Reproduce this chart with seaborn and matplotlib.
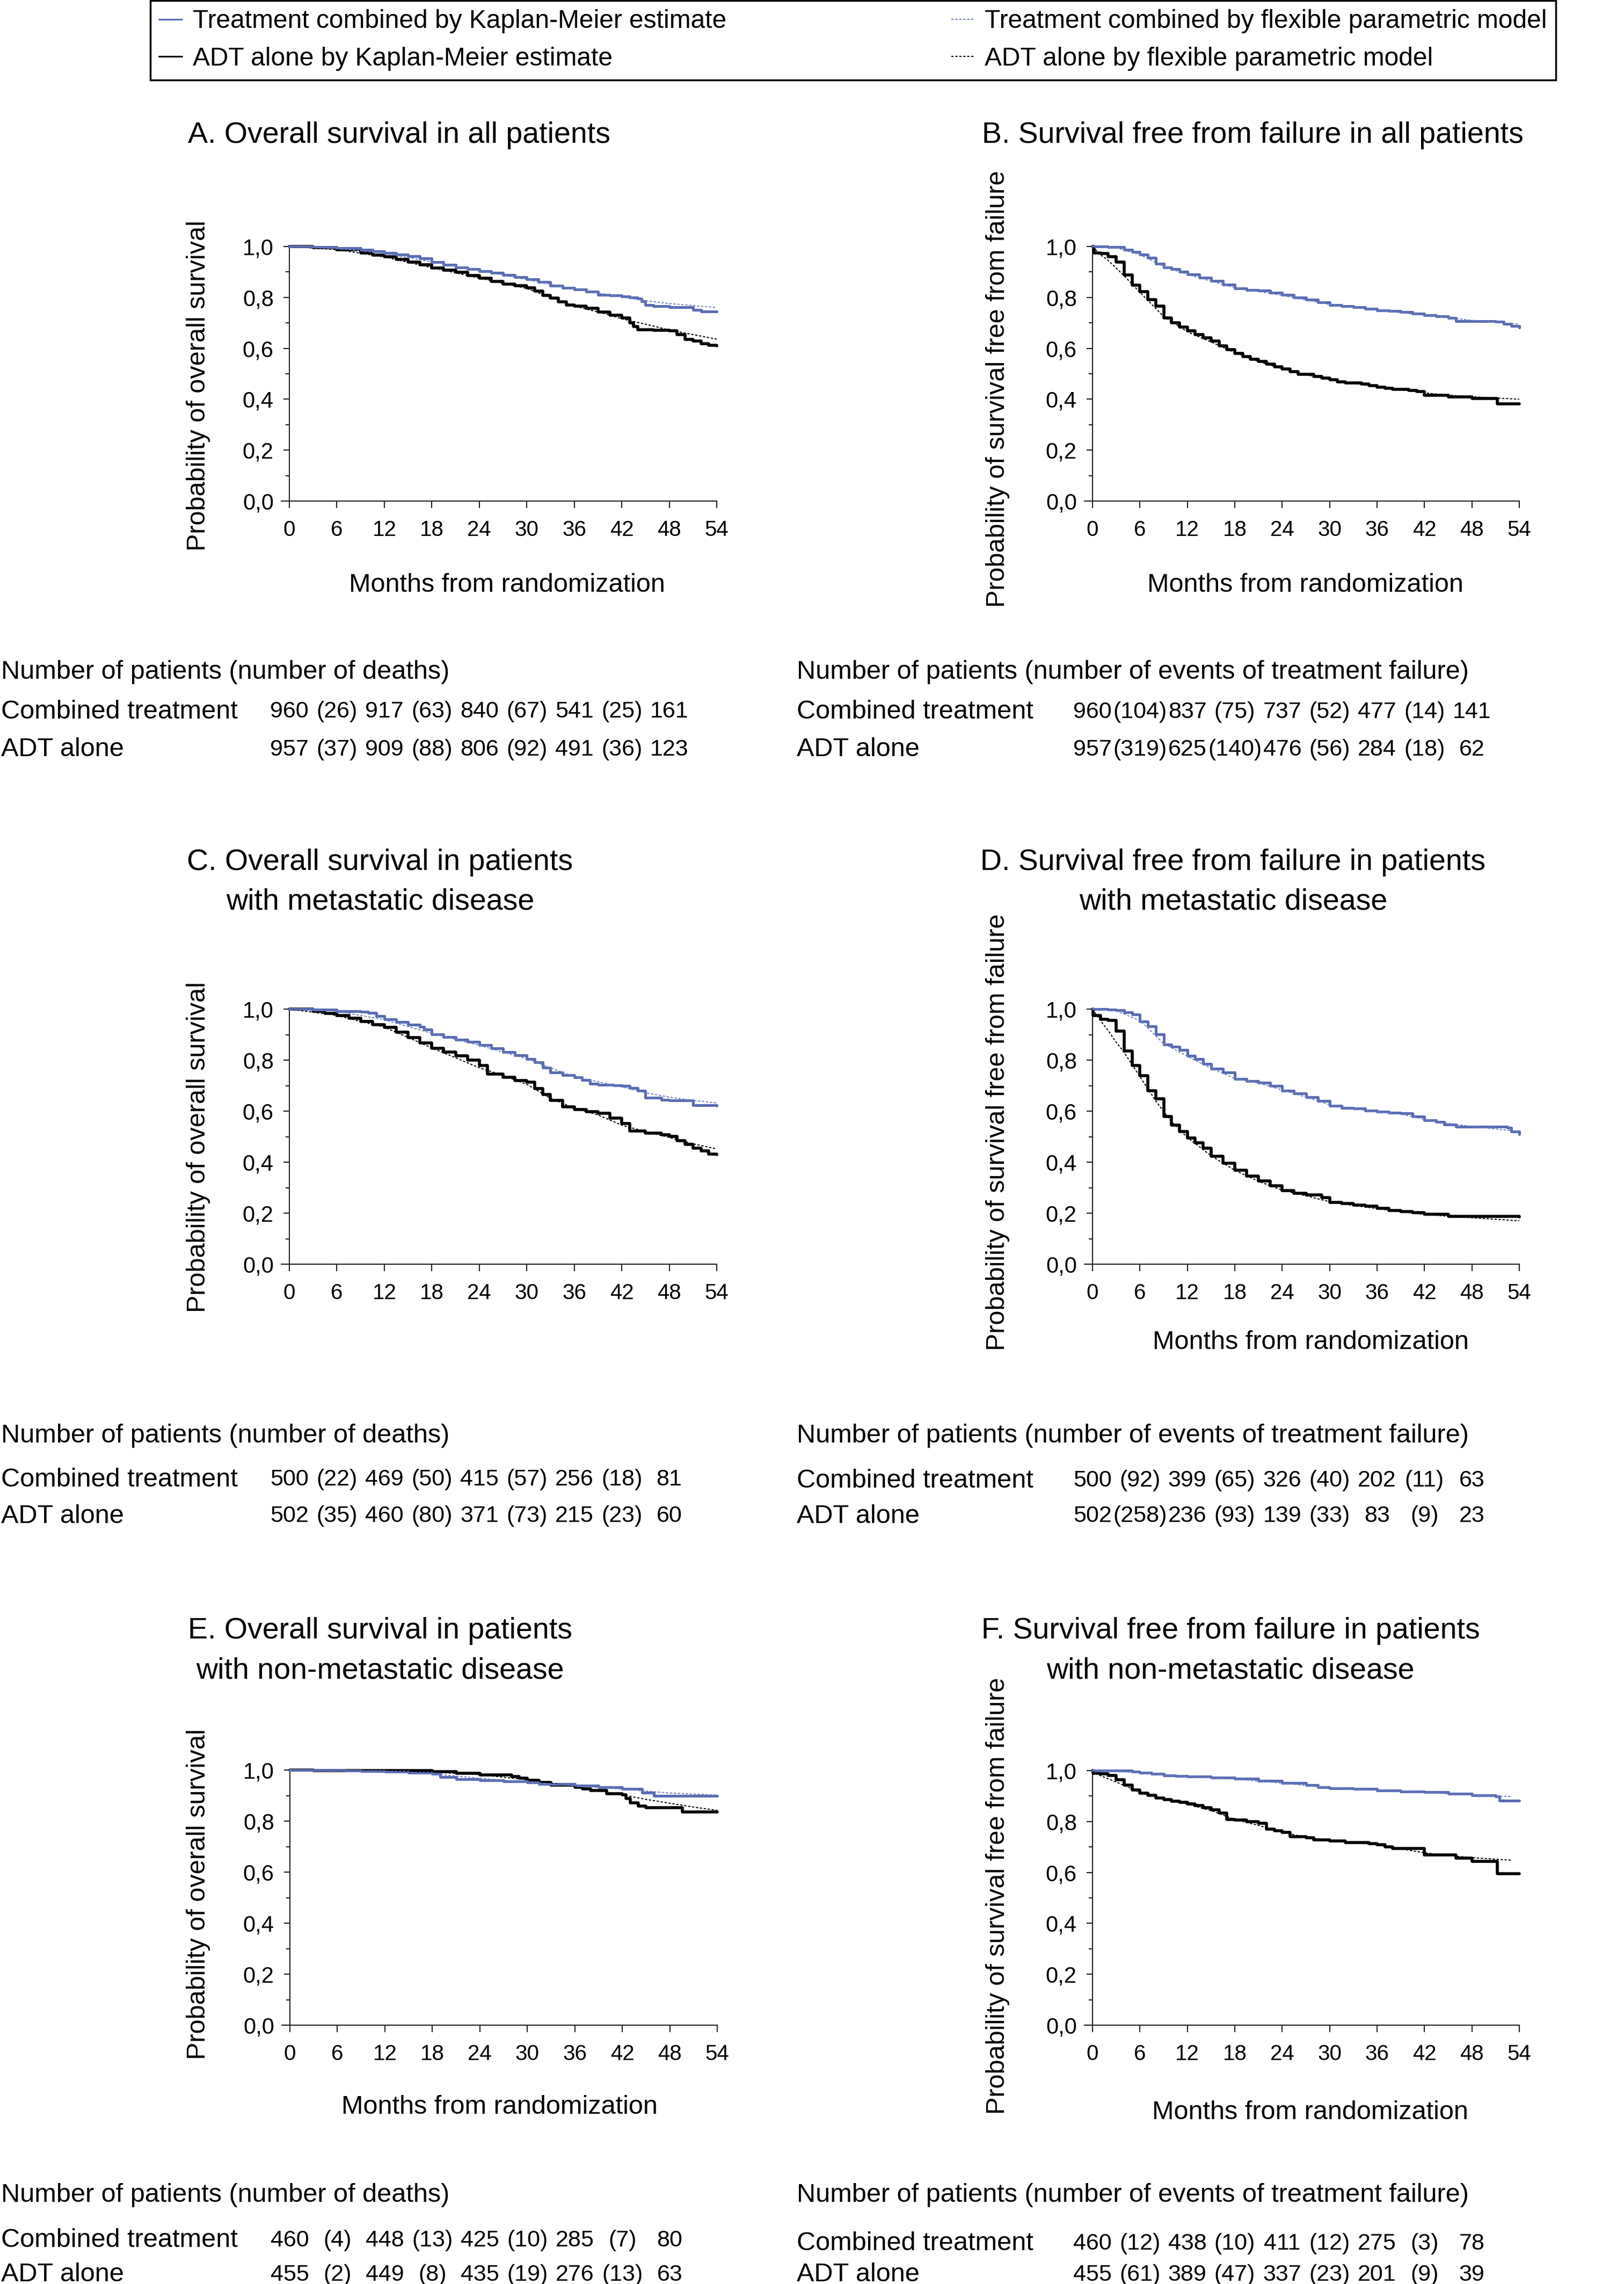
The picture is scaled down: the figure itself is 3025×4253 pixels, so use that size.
import matplotlib
matplotlib.use("Agg")
import matplotlib.pyplot as plt
import matplotlib.transforms as mtransforms
import seaborn as sns

# ------------------------------------------------------------------ data
MONTH_TICKS = [0, 6, 12, 18, 24, 30, 36, 42, 48, 54]
Y_TICKS = [0.0, 0.2, 0.4, 0.6, 0.8, 1.0]
Y_MINOR = [0.1, 0.3, 0.5, 0.7, 0.9]
Y_TICK_LABELS = ["0,0", "0,2", "0,4", "0,6", "0,8", "1,0"]
TABLE_MONTHS = [0, 6, 12, 18, 24, 30, 36, 42, 48]

LEG_KM_COMB = "Treatment combined by Kaplan-Meier estimate"
LEG_KM_ADT = "ADT alone by Kaplan-Meier estimate"
LEG_FP_COMB = "Treatment combined by flexible parametric model"
LEG_FP_ADT = "ADT alone by flexible parametric model"

# Panel A: overall survival, all patients
A_COMB_T = [0, 3, 6, 9, 10.5, 12, 13.5, 15, 16.5, 18, 19.5, 21, 22.5, 24, 25.5, 27, 28.5, 30, 31.5,
            33, 34.5, 36, 37.5, 39, 40.5, 42, 43, 44, 44.5, 45, 46, 48, 50, 51, 52, 54]
A_COMB_S = [1.0, 0.997, 0.994, 0.988, 0.982, 0.974, 0.968, 0.961, 0.953, 0.939, 0.928, 0.917, 0.912,
            0.904, 0.897, 0.888, 0.880, 0.871, 0.860, 0.845, 0.838, 0.832, 0.822, 0.810, 0.808, 0.804,
            0.800, 0.795, 0.785, 0.771, 0.765, 0.761, 0.761, 0.752, 0.745, 0.745]
A_ADT_T = [0, 3, 6, 9, 10.5, 12, 13.5, 15, 16.5, 18, 19.5, 21, 22.5, 24, 25.5, 27, 28.5, 30, 31, 32,
           33, 34, 35, 36, 37.5, 39, 40.5, 42, 43, 43.5, 44, 46, 48, 49, 50, 51, 52, 53, 54]
A_ADT_S = [1.0, 0.995, 0.988, 0.975, 0.967, 0.959, 0.950, 0.939, 0.928, 0.916, 0.907, 0.898, 0.887,
           0.875, 0.862, 0.853, 0.846, 0.838, 0.825, 0.808, 0.797, 0.783, 0.770, 0.765, 0.757, 0.743,
           0.731, 0.720, 0.700, 0.685, 0.674, 0.670, 0.668, 0.655, 0.636, 0.628, 0.619, 0.612, 0.610]
A_FPC_T = [0, 6, 12, 18, 24, 30, 36, 42, 45, 48, 51, 54]
A_FPC_S = [1.0, 0.993, 0.973, 0.940, 0.905, 0.870, 0.833, 0.802, 0.787, 0.776, 0.768, 0.760]
A_FPA_T = [0, 6, 12, 18, 24, 30, 33, 36, 40, 42, 45, 48, 51, 54]
A_FPA_S = [1.0, 0.988, 0.959, 0.917, 0.876, 0.835, 0.800, 0.766, 0.735, 0.716, 0.695, 0.672, 0.654, 0.636]

# Panel B: survival free from failure, all patients
B_COMB_T = [0, 2, 4, 5, 6, 7, 8, 9, 10, 11, 12, 13.5, 15, 16.5, 18, 19.5, 21, 22.5, 24, 25.5, 27,
            28.5, 30, 31.5, 33, 34.5, 36, 37.5, 39, 40.5, 42, 43.5, 45, 46, 48, 51, 52, 53, 54]
B_COMB_S = [1.0, 0.997, 0.988, 0.978, 0.968, 0.955, 0.933, 0.917, 0.911, 0.900, 0.890, 0.877, 0.864,
            0.850, 0.836, 0.830, 0.826, 0.818, 0.810, 0.800, 0.791, 0.780, 0.771, 0.765, 0.762, 0.755,
            0.748, 0.746, 0.743, 0.737, 0.730, 0.726, 0.720, 0.707, 0.707, 0.704, 0.696, 0.687, 0.681]
B_ADT_T = [0, 0.2, 1, 2, 3, 4, 5, 6, 7, 8, 9, 10, 11, 12, 13, 14, 15, 16, 17, 18, 19, 20, 21, 22, 23,
           24, 25, 26, 28, 29, 30, 31, 32, 34, 35, 36, 37, 38, 40, 41, 42, 45, 48, 51.2, 54]
B_ADT_S = [1.0, 0.975, 0.972, 0.959, 0.939, 0.888, 0.849, 0.823, 0.791, 0.765, 0.720, 0.700, 0.683,
           0.668, 0.655, 0.642, 0.629, 0.610, 0.595, 0.580, 0.568, 0.558, 0.548, 0.539, 0.528, 0.519,
           0.509, 0.497, 0.490, 0.484, 0.477, 0.469, 0.464, 0.459, 0.453, 0.448, 0.443, 0.438, 0.435,
           0.430, 0.416, 0.410, 0.403, 0.381, 0.381]
B_FPC_T = [0, 3, 6, 9, 12, 18, 24, 30, 36, 42, 48, 54]
B_FPC_S = [1.0, 0.995, 0.968, 0.922, 0.890, 0.838, 0.808, 0.772, 0.750, 0.730, 0.710, 0.695]
B_FPA_T = [0, 1, 2, 3, 4, 6, 9, 12, 15, 18, 21, 24, 27, 30, 33, 36, 39, 42, 45, 48, 51, 54]
B_FPA_S = [1.0, 0.968, 0.945, 0.915, 0.885, 0.820, 0.725, 0.665, 0.625, 0.583, 0.548, 0.520, 0.496,
           0.477, 0.462, 0.448, 0.437, 0.425, 0.416, 0.410, 0.405, 0.400]

# Panel C: overall survival, metastatic disease
C_COMB_T = [0, 3, 6, 9, 10, 11, 12, 13.5, 15, 16.5, 17, 18, 19.5, 21, 22.5, 24, 25.5, 27, 28.5, 30,
            31, 32, 33, 34.5, 36, 37, 38, 39, 41, 42, 43, 44, 45, 47, 48, 51, 54]
C_COMB_S = [1.0, 0.997, 0.992, 0.990, 0.985, 0.972, 0.959, 0.950, 0.939, 0.930, 0.920, 0.901, 0.891,
            0.881, 0.872, 0.859, 0.846, 0.832, 0.820, 0.804, 0.792, 0.770, 0.752, 0.742, 0.733, 0.722,
            0.708, 0.703, 0.702, 0.698, 0.690, 0.681, 0.652, 0.645, 0.643, 0.623, 0.621]
C_ADT_T = [0, 3, 4.5, 6, 7.5, 9, 10.5, 12, 13.5, 15, 16.5, 18, 19.5, 21, 22.5, 24, 25, 27, 28.5, 30,
           31, 32, 33, 34.5, 36, 37.5, 39, 40.5, 42, 43, 45, 47, 48, 49, 50, 51, 52, 53, 54]
C_ADT_S = [1.0, 0.992, 0.984, 0.974, 0.964, 0.952, 0.940, 0.929, 0.910, 0.888, 0.868, 0.846, 0.832,
           0.817, 0.800, 0.778, 0.746, 0.733, 0.721, 0.714, 0.688, 0.665, 0.643, 0.617, 0.606, 0.598,
           0.591, 0.572, 0.552, 0.523, 0.514, 0.507, 0.501, 0.485, 0.470, 0.455, 0.445, 0.432, 0.430]
C_FPC_T = [0, 6, 12, 18, 24, 30, 36, 42, 45, 48, 51, 54]
C_FPC_S = [1.0, 0.992, 0.958, 0.905, 0.858, 0.805, 0.735, 0.695, 0.672, 0.655, 0.642, 0.632]
C_FPA_T = [0, 6, 12, 18, 24, 27, 30, 33, 36, 39, 42, 45, 48, 51, 54]
C_FPA_S = [1.0, 0.975, 0.929, 0.848, 0.770, 0.740, 0.705, 0.650, 0.612, 0.585, 0.545, 0.520, 0.497,
           0.472, 0.452]

# Panel D: survival free from failure, metastatic disease
D_COMB_T = [0, 2, 3, 4, 5, 6, 7, 8, 9, 10, 11, 12, 13, 14, 15, 16.5, 18, 19.5, 21, 22.5, 24, 25.5,
            27, 28.5, 30, 31.5, 33, 34.5, 36, 37.5, 39, 40.5, 42, 43.5, 44.5, 46, 48, 52.5, 53, 54]
D_COMB_S = [1.0, 0.997, 0.995, 0.988, 0.978, 0.952, 0.933, 0.901, 0.862, 0.852, 0.840, 0.817, 0.805,
            0.785, 0.766, 0.752, 0.726, 0.717, 0.711, 0.700, 0.681, 0.670, 0.655, 0.640, 0.621, 0.613,
            0.610, 0.603, 0.597, 0.593, 0.591, 0.580, 0.565, 0.558, 0.548, 0.540, 0.539, 0.535, 0.519,
            0.510]
D_ADT_T = [0, 0.1, 1, 2, 3, 4, 5, 6, 7, 8, 9, 10, 11, 12, 13, 14, 15, 16.5, 18, 19.5, 21, 22.5, 24,
           25.5, 27, 29, 30, 31.5, 33, 34.5, 36, 37.5, 39, 40.5, 42, 45, 54]
D_ADT_S = [1.0, 0.975, 0.961, 0.956, 0.914, 0.836, 0.778, 0.739, 0.681, 0.649, 0.578, 0.546, 0.520,
           0.494, 0.475, 0.455, 0.423, 0.395, 0.368, 0.345, 0.326, 0.307, 0.288, 0.277, 0.271, 0.262,
           0.243, 0.237, 0.232, 0.227, 0.219, 0.211, 0.206, 0.203, 0.195, 0.187, 0.185]
D_FPC_T = [0, 3, 6, 9, 12, 15, 18, 21, 24, 27, 30, 33, 36, 39, 42, 45, 48, 51, 54]
D_FPC_S = [1.0, 0.993, 0.955, 0.865, 0.815, 0.768, 0.728, 0.710, 0.683, 0.655, 0.625, 0.610, 0.597,
           0.588, 0.568, 0.552, 0.540, 0.530, 0.520]
D_FPA_T = [0, 1, 2, 3, 4, 6, 8, 10, 12, 15, 18, 21, 24, 27, 30, 33, 36, 39, 42, 45, 48, 51, 54]
D_FPA_S = [1.0, 0.955, 0.915, 0.870, 0.830, 0.735, 0.640, 0.558, 0.497, 0.425, 0.368, 0.325, 0.290,
           0.268, 0.245, 0.230, 0.218, 0.205, 0.195, 0.188, 0.182, 0.176, 0.170]

# Panel E: overall survival, non-metastatic disease
E_COMB_T = [0, 7, 9, 12, 15, 18, 19, 21, 24, 27, 30, 31.5, 36, 39, 42, 44.5, 46, 54]
E_COMB_S = [1.0, 0.998, 0.996, 0.994, 0.990, 0.985, 0.972, 0.965, 0.961, 0.955, 0.952, 0.945, 0.939,
            0.932, 0.926, 0.912, 0.899, 0.899]
E_ADT_T = [0, 3, 16, 18, 21, 24, 27, 28, 29, 30, 31.5, 33, 36, 37, 38, 40, 42, 42.5, 43, 44, 45,
           49.6, 54]
E_ADT_S = [1.0, 0.997, 0.997, 0.994, 0.987, 0.982, 0.981, 0.974, 0.968, 0.961, 0.951, 0.942, 0.933,
           0.926, 0.919, 0.907, 0.903, 0.888, 0.871, 0.858, 0.852, 0.836, 0.836]
E_FPC_T = [0, 12, 18, 24, 30, 36, 42, 48, 54]
E_FPC_S = [1.0, 0.995, 0.985, 0.968, 0.952, 0.938, 0.925, 0.910, 0.902]
E_FPA_T = [0, 12, 18, 24, 30, 36, 40, 42, 45, 48, 51, 54]
E_FPA_S = [1.0, 0.997, 0.992, 0.982, 0.962, 0.935, 0.915, 0.903, 0.885, 0.870, 0.855, 0.842]

# Panel F: survival free from failure, non-metastatic disease
F_COMB_T = [0, 3, 5, 6, 7.5, 9, 10.5, 12, 15, 18, 21, 24, 27, 28.5, 30, 33, 36, 39, 42, 45, 48, 51,
            51.5, 54]
F_COMB_S = [1.0, 1.0, 0.996, 0.992, 0.987, 0.982, 0.979, 0.977, 0.972, 0.968, 0.960, 0.951, 0.942,
            0.935, 0.931, 0.928, 0.922, 0.918, 0.915, 0.909, 0.903, 0.899, 0.882, 0.882]
F_ADT_T = [0, 0.1, 1, 2, 3, 4, 5, 6, 7, 8, 9, 10, 11, 12, 13, 14, 15, 16, 17, 18, 19.5, 21, 22, 23,
           24, 25, 27, 28, 30, 32, 35, 36, 37, 38, 42, 46, 48, 51.2, 54]
F_ADT_S = [1.0, 0.990, 0.987, 0.981, 0.964, 0.944, 0.925, 0.912, 0.902, 0.893, 0.886, 0.880, 0.875,
           0.869, 0.862, 0.854, 0.845, 0.834, 0.809, 0.805, 0.800, 0.793, 0.770, 0.763, 0.757, 0.741,
           0.737, 0.728, 0.724, 0.718, 0.714, 0.708, 0.701, 0.695, 0.669, 0.656, 0.643, 0.595, 0.595]
F_FPC_T = [0, 6, 12, 18, 24, 30, 36, 42, 48, 53]
F_FPC_S = [1.0, 0.992, 0.977, 0.967, 0.951, 0.932, 0.923, 0.914, 0.904, 0.898]
F_FPA_T = [0, 1, 3, 6, 9, 12, 15, 18, 21, 24, 27, 30, 33, 36, 39, 42, 45, 48, 51, 53]
F_FPA_S = [1.0, 0.980, 0.955, 0.915, 0.888, 0.868, 0.843, 0.808, 0.785, 0.758, 0.738, 0.725, 0.718,
           0.708, 0.693, 0.677, 0.667, 0.658, 0.652, 0.648]

# Titles and axis labels
TITLES = {
    "A": "A. Overall survival in all patients",
    "B": "B. Survival free from failure in all patients",
    "C": "C. Overall survival in patients\nwith metastatic disease",
    "D": "D. Survival free from failure in patients\nwith metastatic disease",
    "E": "E. Overall survival in patients\nwith non-metastatic disease",
    "F": "F. Survival free from failure in patients\nwith non-metastatic disease",
}
YLAB_OS = "Probability of overall survival"
YLAB_FF = "Probability of survival free from failure"
XLAB = "Months from randomization"

# Numbers at risk tables
HEAD_OS = "Number of patients (number of deaths)"
HEAD_FF = "Number of patients (number of events of treatment failure)"
ROW_COMB = "Combined treatment"
ROW_ADT = "ADT alone"
A_TAB_COMB = ["960", "(26)", "917", "(63)", "840", "(67)", "541", "(25)", "161"]
A_TAB_ADT = ["957", "(37)", "909", "(88)", "806", "(92)", "491", "(36)", "123"]
B_TAB_COMB = ["960", "(104)", "837", "(75)", "737", "(52)", "477", "(14)", "141"]
B_TAB_ADT = ["957", "(319)", "625", "(140)", "476", "(56)", "284", "(18)", "62"]
C_TAB_COMB = ["500", "(22)", "469", "(50)", "415", "(57)", "256", "(18)", "81"]
C_TAB_ADT = ["502", "(35)", "460", "(80)", "371", "(73)", "215", "(23)", "60"]
D_TAB_COMB = ["500", "(92)", "399", "(65)", "326", "(40)", "202", "(11)", "63"]
D_TAB_ADT = ["502", "(258)", "236", "(93)", "139", "(33)", "83", "(9)", "23"]
E_TAB_COMB = ["460", "(4)", "448", "(13)", "425", "(10)", "285", "(7)", "80"]
E_TAB_ADT = ["455", "(2)", "449", "(8)", "435", "(19)", "276", "(13)", "63"]
F_TAB_COMB = ["460", "(12)", "438", "(10)", "411", "(12)", "275", "(3)", "78"]
F_TAB_ADT = ["455", "(61)", "389", "(47)", "337", "(23)", "201", "(9)", "39"]

# ------------------------------------------------------------------ style / layout
W, H = 3025, 4253
sns.set_theme(style="ticks")
plt.rcParams["font.family"] = ["Liberation Sans", "DejaVu Sans"]
plt.rcParams["text.color"] = "black"

BLUE = "#5a6cb3"
BLUE_FP = "#6f80c4"
BLACK = "#000000"
KM_LW_ADT = 4.0
KM_LW_COMB = 3.6
FP_LW = 1.4
FP_DASH = (0, (2.2, 1.6))
SPINE_C = "#222222"


def fx(px):
    return px / W


def fy(py):
    return 1 - py / H


panels = {
    "A": dict(box=(539, 1335, 459, 933), title=(743, 252), ylab=(370, 718, YLAB_OS), xlab=(944, 1090),
              comb=(A_COMB_T, A_COMB_S), adt=(A_ADT_T, A_ADT_S), fpc=(A_FPC_T, A_FPC_S),
              fpa=(A_FPA_T, A_FPA_S), table=(HEAD_OS, A_TAB_COMB, A_TAB_ADT, 2, 1252, 1325, 1396)),
    "B": dict(box=(2035, 2830, 459, 933), title=(2333, 252), ylab=(1859, 724, YLAB_FF), xlab=(2431, 1090),
              comb=(B_COMB_T, B_COMB_S), adt=(B_ADT_T, B_ADT_S), fpc=(B_FPC_T, B_FPC_S),
              fpa=(B_FPA_T, B_FPA_S), table=(HEAD_FF, B_TAB_COMB, B_TAB_ADT, 1484, 1252, 1326, 1396)),
    "C": dict(box=(539, 1335, 1879, 2354), title=(708, 1643), ylab=(370, 2136, YLAB_OS), xlab=None,
              comb=(C_COMB_T, C_COMB_S), adt=(C_ADT_T, C_ADT_S), fpc=(C_FPC_T, C_FPC_S),
              fpa=(C_FPA_T, C_FPA_S), table=(HEAD_OS, C_TAB_COMB, C_TAB_ADT, 2, 2674, 2755, 2823)),
    "D": dict(box=(2035, 2830, 1879, 2354), title=(2297, 1643), ylab=(1859, 2108, YLAB_FF),
              xlab=(2441, 2499),
              comb=(D_COMB_T, D_COMB_S), adt=(D_ADT_T, D_ADT_S), fpc=(D_FPC_T, D_FPC_S),
              fpa=(D_FPA_T, D_FPA_S), table=(HEAD_FF, D_TAB_COMB, D_TAB_ADT, 1484, 2674, 2757, 2823)),
    "E": dict(box=(540, 1336, 3296, 3771), title=(708, 3074), ylab=(370, 3527, YLAB_OS), xlab=(930, 3924),
              comb=(E_COMB_T, E_COMB_S), adt=(E_ADT_T, E_ADT_S), fpc=(E_FPC_T, E_FPC_S),
              fpa=(E_FPA_T, E_FPA_S), table=(HEAD_OS, E_TAB_COMB, E_TAB_ADT, 2, 4088, 4172, 4236)),
    "F": dict(box=(2035, 2830, 3297, 3771), title=(2292, 3074), ylab=(1859, 3530, YLAB_FF),
              xlab=(2440, 3933),
              comb=(F_COMB_T, F_COMB_S), adt=(F_ADT_T, F_ADT_S), fpc=(F_FPC_T, F_FPC_S),
              fpa=(F_FPA_T, F_FPA_S), table=(HEAD_FF, F_TAB_COMB, F_TAB_ADT, 1484, 4088, 4178, 4236)),
}

fig = plt.figure(figsize=(W / 100, H / 100), dpi=100)
fig.patch.set_facecolor("white")

legend_handles = {}

for key, p in panels.items():
    x0, x1, yt, yb = p["box"]
    ax = fig.add_axes([fx(x0), fy(yb), (x1 - x0) / W, (yb - yt) / H])
    ax.set_facecolor("white")

    sns.lineplot(x=p["adt"][0], y=p["adt"][1], ax=ax, color=BLACK, linewidth=KM_LW_ADT,
                 drawstyle="steps-post", estimator=None, sort=False, legend=False,
                 label=LEG_KM_ADT, clip_on=False, zorder=3)
    l_adt = ax.lines[-1]
    sns.lineplot(x=p["comb"][0], y=p["comb"][1], ax=ax, color=BLUE, linewidth=KM_LW_COMB,
                 drawstyle="steps-post", estimator=None, sort=False, legend=False,
                 label=LEG_KM_COMB, clip_on=False, zorder=4)
    l_comb = ax.lines[-1]
    sns.lineplot(x=p["fpa"][0], y=p["fpa"][1], ax=ax, color=BLACK, linewidth=FP_LW,
                 linestyle=FP_DASH, estimator=None, sort=False, legend=False,
                 label=LEG_FP_ADT, clip_on=False, zorder=5)
    l_fpa = ax.lines[-1]
    sns.lineplot(x=p["fpc"][0], y=p["fpc"][1], ax=ax, color=BLUE_FP, linewidth=FP_LW,
                 linestyle=FP_DASH, estimator=None, sort=False, legend=False,
                 label=LEG_FP_COMB, clip_on=False, zorder=6)
    l_fpc = ax.lines[-1]
    if key == "A":
        legend_handles = {LEG_KM_COMB: l_comb, LEG_KM_ADT: l_adt,
                          LEG_FP_COMB: l_fpc, LEG_FP_ADT: l_fpa}

    ax.set_xlim(0, 54)
    ax.set_ylim(0, 1)
    ax.set_xticks(MONTH_TICKS)
    ax.set_xticklabels([str(m) for m in MONTH_TICKS])
    ax.set_yticks(Y_TICKS)
    ax.set_yticklabels(Y_TICK_LABELS)
    ax.set_yticks(Y_MINOR, minor=True)
    ax.set_xlabel("")
    ax.set_ylabel("")
    sns.despine(ax=ax)
    for s in ("left", "bottom"):
        ax.spines[s].set_linewidth(1.5)
        ax.spines[s].set_color(SPINE_C)
    ax.spines["bottom"].set_bounds(-1.0, 54)
    ax.tick_params(axis="x", which="major", length=9.4, width=1.5, color=SPINE_C,
                   labelsize=29, pad=16, labelcolor="black")
    ax.tick_params(axis="y", which="major", length=8, width=1.5, color=SPINE_C,
                   labelsize=30, pad=13, labelcolor="black")
    ax.tick_params(axis="y", which="minor", length=5, width=1.5, color=SPINE_C)

    # title / labels
    tx, ty = p["title"]
    fig.text(fx(tx), fy(ty), TITLES[key], ha="center", va="center", fontsize=40,
             linespacing=1.55)
    lx, ly, ltxt = p["ylab"]
    fig.text(fx(lx), fy(ly), ltxt, ha="center", va="center", rotation=90, fontsize=35)
    if p["xlab"] is not None:
        fig.text(fx(p["xlab"][0]), fy(p["xlab"][1]), XLAB, ha="center", va="center", fontsize=35)

    # numbers-at-risk table
    head, row_c, row_a, labx, hy, ry1, ry2 = p["table"]
    fig.text(fx(labx), fy(hy), head, ha="left", va="center", fontsize=35)
    fig.text(fx(labx), fy(ry1), ROW_COMB, ha="left", va="center", fontsize=35)
    fig.text(fx(labx), fy(ry2), ROW_ADT, ha="left", va="center", fontsize=35)
    trans = mtransforms.blended_transform_factory(ax.transData, fig.transFigure)
    for m, s in zip(TABLE_MONTHS, row_c):
        ax.text(m, fy(ry1), s, transform=trans, ha="center", va="center", fontsize=31,
                clip_on=False)
    for m, s in zip(TABLE_MONTHS, row_a):
        ax.text(m, fy(ry2), s, transform=trans, ha="center", va="center", fontsize=31,
                clip_on=False)

# legend
order = [LEG_KM_COMB, LEG_KM_ADT, LEG_FP_COMB, LEG_FP_ADT]
leg = fig.legend([legend_handles[k] for k in order], order, ncol=2, loc="upper left",
                 bbox_to_anchor=(fx(280), fy(1)), frameon=True, fancybox=False,
                 fontsize=34.5, handlelength=0.9, handletextpad=0.4, columnspacing=8.75,
                 labelspacing=0.52, borderpad=0.34, borderaxespad=0.0, framealpha=1.0)
leg.get_frame().set_edgecolor("black")
leg.get_frame().set_linewidth(2.5)
for hl in leg.get_lines():
    if hl.get_linestyle() == "-":
        hl.set_linewidth(2.2)

fig.savefig("out.png", dpi=100, facecolor="white")
